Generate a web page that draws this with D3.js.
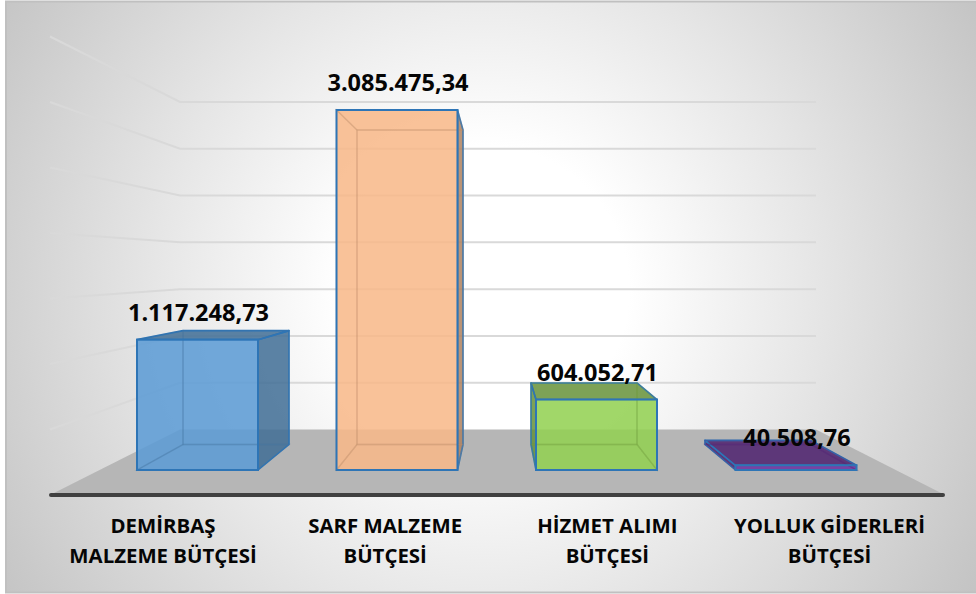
<!DOCTYPE html>
<html><head><meta charset="utf-8">
<script src="https://cdn.jsdelivr.net/npm/d3@7"></script>
<style>html,body{margin:0;padding:0;background:#fff}svg{display:block}text{font-family:"Open Sans","Noto Sans",sans-serif;font-weight:700;fill:#050505}</style>
</head><body><div id="c"></div>
<script>
const categories = ["DEMİRBAŞ MALZEME BÜTÇESİ","SARF MALZEME BÜTÇESİ","HİZMET ALIMI BÜTÇESİ","YOLLUK GİDERLERİ BÜTÇESİ"];
const categoryLines = [["DEMİRBAŞ","MALZEME BÜTÇESİ"],["SARF MALZEME","BÜTÇESİ"],["HİZMET ALIMI","BÜTÇESİ"],["YOLLUK GİDERLERİ","BÜTÇESİ"]];
const values = [1117248.73,3085475.34,604052.71,40508.76];
const barColors = ["#5b9bd5","#f8b888","#92d050","#6f2f9f"];
const gridTicks = [500000,1000000,1500000,2000000,2500000,3000000,3500000];

const W=976,H=594;
const svg=d3.select("#c").append("svg").attr("width",W).attr("height",H);
const defs=svg.append("defs");
const g=defs.append("radialGradient").attr("id","bg").attr("gradientUnits","userSpaceOnUse")
  .attr("cx",485).attr("cy",290).attr("r",600);
[[0,"#ffffff"],[.24,"#ffffff"],[.55,"#e6e6e6"],[1,"#c0c0c0"]].forEach(s=>g.append("stop").attr("offset",s[0]).attr("stop-color",s[1]));
svg.append("rect").attr("x",6).attr("y",1.5).attr("width",W).attr("height",591)
  .attr("fill","url(#bg)").attr("stroke","#c0c0c0").attr("stroke-width",2);

const yFront=d3.scaleLinear().domain([0,3085475.34]).range([470,110]);
const yBack=d3.scaleLinear().domain([0,3085475.34]).range([444.5,130]);
const xFront=d3.scalePoint().domain(categories).range([197.5,796]);
const xBack=d3.scalePoint().domain(categories).range([236,758]);
const xLabel=d3.scalePoint().domain(categories).range([163,829.5]);
const yWall=d3.scaleLinear().domain([0,3500000]).range([429.5,102]);
const ySide=d3.scaleLinear().domain([0,3500000]).range([495,36.5]);
const wallX=d3.scaleLinear().domain([0,1]).range([180,816]);
const sideX=50, frontRight=945;
const wF=121,wB=106;

svg.append("path").attr("d",d3.line()([[sideX,495],[frontRight,495],[wallX(1),yWall(0)],[wallX(0),yWall(0)]])+"Z").attr("fill","#b6b6b6");

svg.append("g").selectAll("path").data(gridTicks).join("path")
  .attr("d",d=>d3.line()([[sideX,ySide(d)],[wallX(0),yWall(d)],[wallX(1),yWall(d)]]))
  .attr("fill","none").attr("stroke","#d9d9d9").attr("stroke-width",2);

svg.append("line").attr("x1",sideX+1).attr("x2",frontRight-2).attr("y1",495).attr("y2",495)
  .attr("stroke","#404040").attr("stroke-width",4).attr("stroke-linecap","round");

const poly=p=>d3.line()(p)+"Z";
const edge="#2e75b6";
categories.forEach((c,i)=>{
  const v=values[i],col=barColors[i];
  const fl=xFront(c)-wF/2,fr=xFront(c)+wF/2,ft=yFront(v),fb=yFront(0);
  const bl=xBack(c)-wB/2,br=xBack(c)+wB/2,bt=yBack(v),bb=yBack(0);
  const faces=[
    {p:[[bl,bt],[br,bt],[br,bb],[bl,bb]],outer:false},
    {p:[[fl,fb],[fr,fb],[br,bb],[bl,bb]],outer:false},
    {p:[[fl,ft],[bl,bt],[bl,bb],[fl,fb]],outer:bl<fl},
    {p:[[fr,ft],[br,bt],[br,bb],[fr,fb]],outer:br>fr},
    {p:[[fl,ft],[fr,ft],[br,bt],[bl,bt]],outer:bt<ft}
  ];
  const b=svg.append("g");
  const dark=d3.color(col).darker(1.0).formatHex();
  const faint=d3.color(col).darker(.8).formatHex();
  faces.filter(f=>f.outer).forEach(f=>b.append("path").attr("d",poly(f.p))
    .attr("fill",dark).attr("fill-opacity",.85).attr("stroke",edge).attr("stroke-width",1.6).attr("stroke-linejoin","round"));
  b.append("rect").attr("x",fl).attr("y",ft).attr("width",wF).attr("height",fb-ft)
    .attr("fill",col).attr("fill-opacity",.86);
  faces.filter(f=>!f.outer).forEach(f=>b.append("path").attr("d",poly(f.p))
    .attr("fill","none").attr("stroke",faint).attr("stroke-width",1.4).attr("stroke-opacity",.25));
  b.append("rect").attr("x",fl).attr("y",ft).attr("width",wF).attr("height",fb-ft)
    .attr("fill","none").attr("stroke",edge).attr("stroke-width",2);
});

const fmt=d3.formatLocale({decimal:",",thousands:".",grouping:[3],currency:["",""]}).format(",.2f");
svg.append("g").selectAll("text").data(categories).join("text")
  .attr("x",d=>xFront(d)+1).attr("y",(d,i)=>yFront(values[i])-19)
  .attr("text-anchor","middle").attr("font-size",23.5).text((d,i)=>fmt(values[i]));

const lab=svg.append("g").attr("font-size",20.4);
categories.forEach((c,i)=>{
  const t=lab.append("text").attr("text-anchor","middle");
  categoryLines[i].forEach((l,k)=>t.append("tspan").attr("x",xLabel(c)).attr("y",533+k*30).text(l));
});
</script></body></html>
